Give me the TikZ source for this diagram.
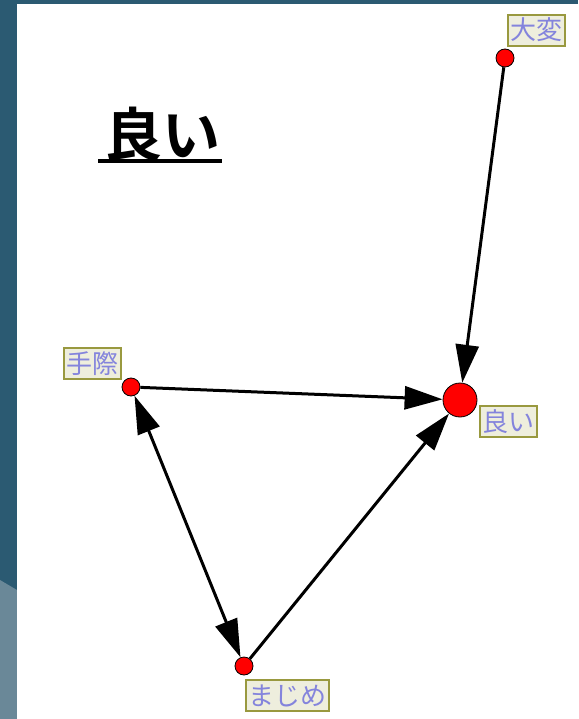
\documentclass[tikz,border=0pt]{standalone}
\usepackage{fontspec}
\newfontfamily\jp{Noto Sans CJK JP}
\newfontfamily\jpb{Noto Sans CJK JP Bold}
\usetikzlibrary{arrows.meta}
\definecolor{bgdark}{HTML}{2B5A72}
\definecolor{bglight}{HTML}{6A8898}
\definecolor{labfill}{HTML}{EEEEDD}
\definecolor{labdraw}{HTML}{99993F}
\definecolor{labtext}{HTML}{8484DC}
\tikzset{
  vtx/.style={circle,fill=red,draw=black,line width=0.8pt,minimum size=18pt,inner sep=0pt},
  bigvtx/.style={circle,fill=red,draw=black,line width=0.8pt,minimum size=34pt,inner sep=0pt},
  lab/.style={fill=labfill,draw=labdraw,line width=2pt,text=labtext,font=\jp\fontsize{26}{26}\selectfont,
    text height=22pt,text depth=3pt,inner xsep=2.5pt,inner ysep=3pt,anchor=north west},
  edge/.style={line width=3pt,-{Triangle[length=38pt,width=23pt]}},
  dedge/.style={line width=3pt,{Triangle[length=38pt,width=23pt]}-{Triangle[length=38pt,width=23pt]}}
}
\begin{document}
\begin{tikzpicture}[x=1pt,y=-1pt]
\useasboundingbox (0,0) rectangle (578,719);
\fill[bgdark] (0,0) rectangle (578,719);
\fill[bglight] (0,580) -- (17,590) -- (17,719) -- (0,719) -- cycle;
\fill[white] (17,4) rectangle (578,719);
\node[font=\jpb\fontsize{58}{58}\selectfont,inner sep=0pt] (title) at (162,134) {良い};
\draw[line width=3.2pt] (98,161) -- (222,161);
\node[vtx] (taihen) at (505,58) {};
\node[vtx] (tegiwa) at (131,387) {};
\node[bigvtx] (yoi) at (460,400) {};
\node[vtx] (majime) at (244,666) {};
\node[lab] (ltaihen) at (507,14) {大変};
\node[lab] (ltegiwa) at (63,347) {手際};
\node[lab] (lyoi) at (479,405) {良い};
\node[lab] (lmajime) at (245,679) {まじめ};
\draw[edge] (taihen) -- (yoi);
\draw[edge] (tegiwa) -- (yoi);
\draw[edge] (majime) -- (yoi);
\draw[dedge] (tegiwa) -- (majime);
\end{tikzpicture}
\end{document}
